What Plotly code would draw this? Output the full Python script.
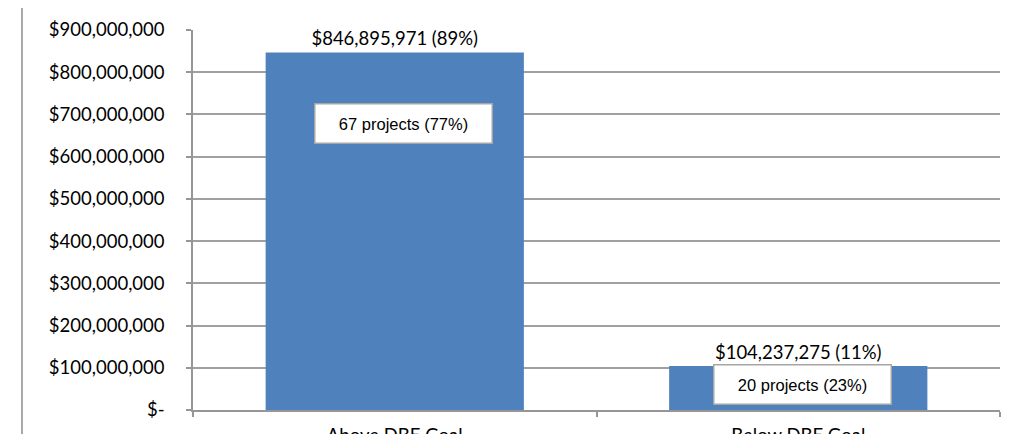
import plotly.graph_objects as go

categories = ["Above DBE Goal", "Below DBE Goal"]
dollar_values = [846895971, 104237275]
dollar_pcts = [89, 11]
project_counts = [67, 20]
project_pcts = [77, 23]
y_tickvals = [0, 100e6, 200e6, 300e6, 400e6, 500e6, 600e6, 700e6, 800e6, 900e6]
y_ticktext = ["$-", "$100,000,000", "$200,000,000", "$300,000,000", "$400,000,000",
              "$500,000,000", "$600,000,000", "$700,000,000", "$800,000,000", "$900,000,000"]

bar_text = [f"${v:,.0f} ({p}%)" for v, p in zip(dollar_values, dollar_pcts)]

fig = go.Figure()
fig.add_trace(go.Bar(
    x=categories, y=dollar_values, text=bar_text, textposition="outside",
    textfont=dict(family="Lato", size=18.5, color="#000000"),
    marker=dict(color="#4F81BD", line=dict(width=0)),
    cliponaxis=False, hoverinfo="skip",
))

grey = "#969696"
fig.update_layout(
    width=1027, height=426,
    margin=dict(l=185, r=35, t=22, b=24),
    paper_bgcolor="white", plot_bgcolor="white",
    bargap=0.36, showlegend=False,
    font=dict(family="Lato", size=18.5, color="#000000"),
    xaxis=dict(
        showline=True, linecolor=grey, linewidth=1.5, ticks="outside",
        tickson="boundaries", ticklen=5, tickcolor=grey, tickwidth=1.5,
        ticklabelstandoff=8, showgrid=False, tickfont=dict(family="Lato", size=18.5),
        automargin=False,
    ),
    yaxis=dict(
        range=[0, 900e6], tickvals=y_tickvals, ticktext=y_ticktext,
        showline=True, linecolor=grey, linewidth=1.5, ticks="outside",
        ticklen=5, tickcolor=grey, tickwidth=1.5, showgrid=True,
        gridcolor="#A0A0A0", gridwidth=1.5, zeroline=False,
        ticklabelstandoff=18, tickfont=dict(family="Lato", size=18.5),
        automargin=False,
    ),
)

# project-count labels in boxes
box_y = [0.755, 0.066]
box_shift = [9, 4]
for i, (cat, n, p) in enumerate(zip(categories, project_counts, project_pcts)):
    fig.add_annotation(
        x=cat, xref="x", y=box_y[i], yref="paper", xshift=box_shift[i],
        xanchor="center", yanchor="middle",
        text=f"{n} projects ({p}%)", showarrow=False,
        font=dict(family="Liberation Sans", size=16.5, color="#000000"),
        bgcolor="white", bordercolor="#A6A6A6", borderwidth=1.5,
        width=174, height=36, align="center",
    )

# outer chart border
fig.add_shape(type="rect", xref="paper", yref="paper",
              x0=-0.2119, x1=1.0409, y0=-0.3, y1=1.076,
              line=dict(color="#8C8C8C", width=1.5), fillcolor="rgba(0,0,0,0)", layer="below")

fig.write_html("out.html")
